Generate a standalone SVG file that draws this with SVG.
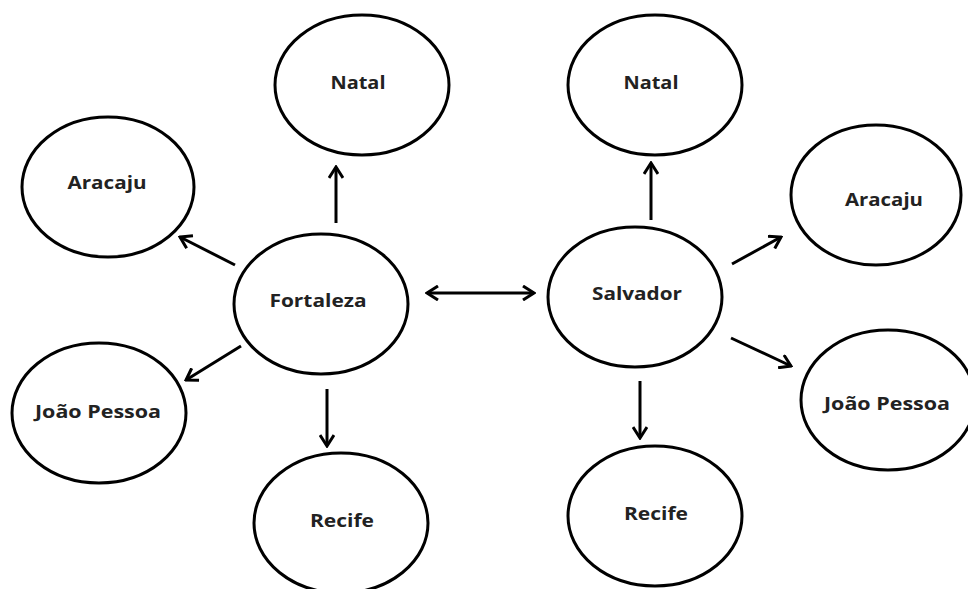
<svg xmlns="http://www.w3.org/2000/svg" width="968" height="589" viewBox="0 0 968 589">
<style>
.node ellipse{fill:#fff;stroke:#000;stroke-width:3}
.node text{font-family:"Open Sans","Liberation Sans",sans-serif;font-weight:bold;font-size:17px;fill:#222;text-anchor:middle}
.conn line{stroke:#000;stroke-width:3}
</style>
<defs>
<marker id="ah" viewBox="0 0 14 16" refX="12" refY="8" markerWidth="14" markerHeight="16" markerUnits="userSpaceOnUse" orient="auto-start-reverse">
<path d="M1,1 L12,8 L1,15" fill="none" stroke="#000" stroke-width="3"/>
</marker>
</defs>
<rect width="968" height="589" fill="#fff"/>
<g id="natal-left" class="node"><ellipse cx="362" cy="85" rx="87" ry="70"/><text x="358" y="89" textLength="55" lengthAdjust="spacingAndGlyphs">Natal</text></g>
<g id="aracaju-left" class="node"><ellipse cx="108" cy="187" rx="86" ry="70"/><text x="107" y="189" textLength="79" lengthAdjust="spacingAndGlyphs">Aracaju</text></g>
<g id="fortaleza" class="node"><ellipse cx="321" cy="304" rx="87" ry="70"/><text x="318" y="307" textLength="97" lengthAdjust="spacingAndGlyphs">Fortaleza</text></g>
<g id="joao-pessoa-left" class="node"><ellipse cx="99" cy="413" rx="87" ry="70"/><text x="98" y="418" textLength="126" lengthAdjust="spacingAndGlyphs">João Pessoa</text></g>
<g id="recife-left" class="node"><ellipse cx="341" cy="523" rx="87" ry="70"/><text x="342" y="527" textLength="64" lengthAdjust="spacingAndGlyphs">Recife</text></g>
<g id="natal-right" class="node"><ellipse cx="655" cy="85" rx="87" ry="70"/><text x="651" y="89" textLength="55" lengthAdjust="spacingAndGlyphs">Natal</text></g>
<g id="salvador" class="node"><ellipse cx="635" cy="297" rx="87" ry="70"/><text x="637" y="300" textLength="90" lengthAdjust="spacingAndGlyphs">Salvador</text></g>
<g id="aracaju-right" class="node"><ellipse cx="876" cy="195" rx="85" ry="70"/><text x="884" y="206" textLength="78" lengthAdjust="spacingAndGlyphs">Aracaju</text></g>
<g id="joao-pessoa-right" class="node"><ellipse cx="888" cy="400" rx="87" ry="70"/><text x="887" y="410" textLength="126" lengthAdjust="spacingAndGlyphs">João Pessoa</text></g>
<g id="recife-right" class="node"><ellipse cx="655" cy="516" rx="87" ry="70"/><text x="656" y="520" textLength="64" lengthAdjust="spacingAndGlyphs">Recife</text></g>
<g id="connectors" class="conn">
<line x1="336" y1="223" x2="336" y2="167" marker-end="url(#ah)"/>
<line x1="235" y1="265" x2="180" y2="237" marker-end="url(#ah)"/>
<line x1="241" y1="346" x2="186" y2="380" marker-end="url(#ah)"/>
<line x1="327" y1="389" x2="327" y2="446" marker-end="url(#ah)"/>
<line x1="427" y1="293" x2="534" y2="293" marker-start="url(#ah)" marker-end="url(#ah)"/>
<line x1="651" y1="220" x2="651" y2="163" marker-end="url(#ah)"/>
<line x1="732" y1="264" x2="781" y2="237" marker-end="url(#ah)"/>
<line x1="731" y1="338" x2="791" y2="366" marker-end="url(#ah)"/>
<line x1="640" y1="381" x2="640" y2="438" marker-end="url(#ah)"/>
</g>
</svg>
